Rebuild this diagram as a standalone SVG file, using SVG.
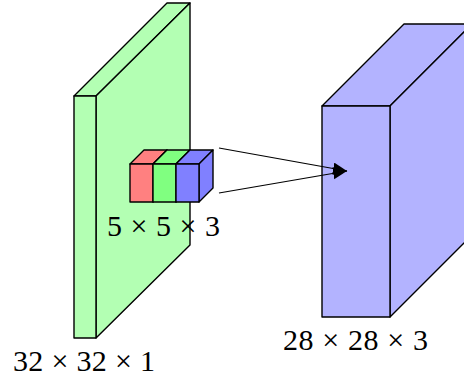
<svg xmlns="http://www.w3.org/2000/svg" width="464" height="380" viewBox="0 0 464 380">
<defs>
<style>
.e{stroke:#000;stroke-width:1.4;stroke-linejoin:round}
.g{fill:#b3ffb3}
.b{fill:#b3b3ff}
.r1{fill:#ff8080}
.g1{fill:#80ff80}
.b1{fill:#8080ff}
.lbl{font-family:"Liberation Serif","DejaVu Serif",serif;font-size:30px;fill:#000}
.c{stroke:#000;stroke-width:1.2;fill:none}
</style>
<marker id="ah" markerUnits="userSpaceOnUse" markerWidth="16" markerHeight="14" refX="14" refY="6" orient="auto">
<path d="M0,0 L14,6 L0,12 z" fill="#000"/>
</marker>
</defs>
<rect width="464" height="380" fill="#fff"/>
<g id="input">
<polygon class="e g" points="74,96 167,3 190,3 96,96"/>
<polygon class="e g" points="96,96 190,3 190,245 96,338"/>
<rect class="e g" x="74" y="96" width="22" height="242"/>
<text class="lbl" x="13" y="371" textLength="142" lengthAdjust="spacing">32 × 32 × 1</text>
</g>
<g id="output">
<polygon class="e b" points="322,106 404,24 472,24 390,106"/>
<polygon class="e b" points="390,106 472,24 472,235 390,317"/>
<rect class="e b" x="322" y="106" width="68" height="211"/>
<text class="lbl" x="283" y="350" textLength="145" lengthAdjust="spacing">28 × 28 × 3</text>
</g>
<g id="kernel">
<polygon class="e r1" points="130,164 144,150 167,150 153,164"/>
<polygon class="e r1" points="153,164 167,150 167,188 153,202"/>
<rect class="e r1" x="130" y="164" width="23" height="38"/>
<polygon class="e g1" points="153,164 167,150 190,150 176,164"/>
<polygon class="e g1" points="176,164 190,150 190,188 176,202"/>
<rect class="e g1" x="153" y="164" width="23" height="38"/>
<polygon class="e b1" points="176,164 190,150 213,150 199,164"/>
<polygon class="e b1" points="199,164 213,150 213,188 199,202"/>
<rect class="e b1" x="176" y="164" width="23" height="38"/>
<text class="lbl" x="107" y="236" textLength="113" lengthAdjust="spacing">5 × 5 × 3</text>
</g>
<g id="connectors">
<line class="c" x1="219" y1="148" x2="347" y2="171" marker-end="url(#ah)"/>
<line class="c" x1="219" y1="193" x2="347" y2="171" marker-end="url(#ah)"/>
</g>
</svg>
